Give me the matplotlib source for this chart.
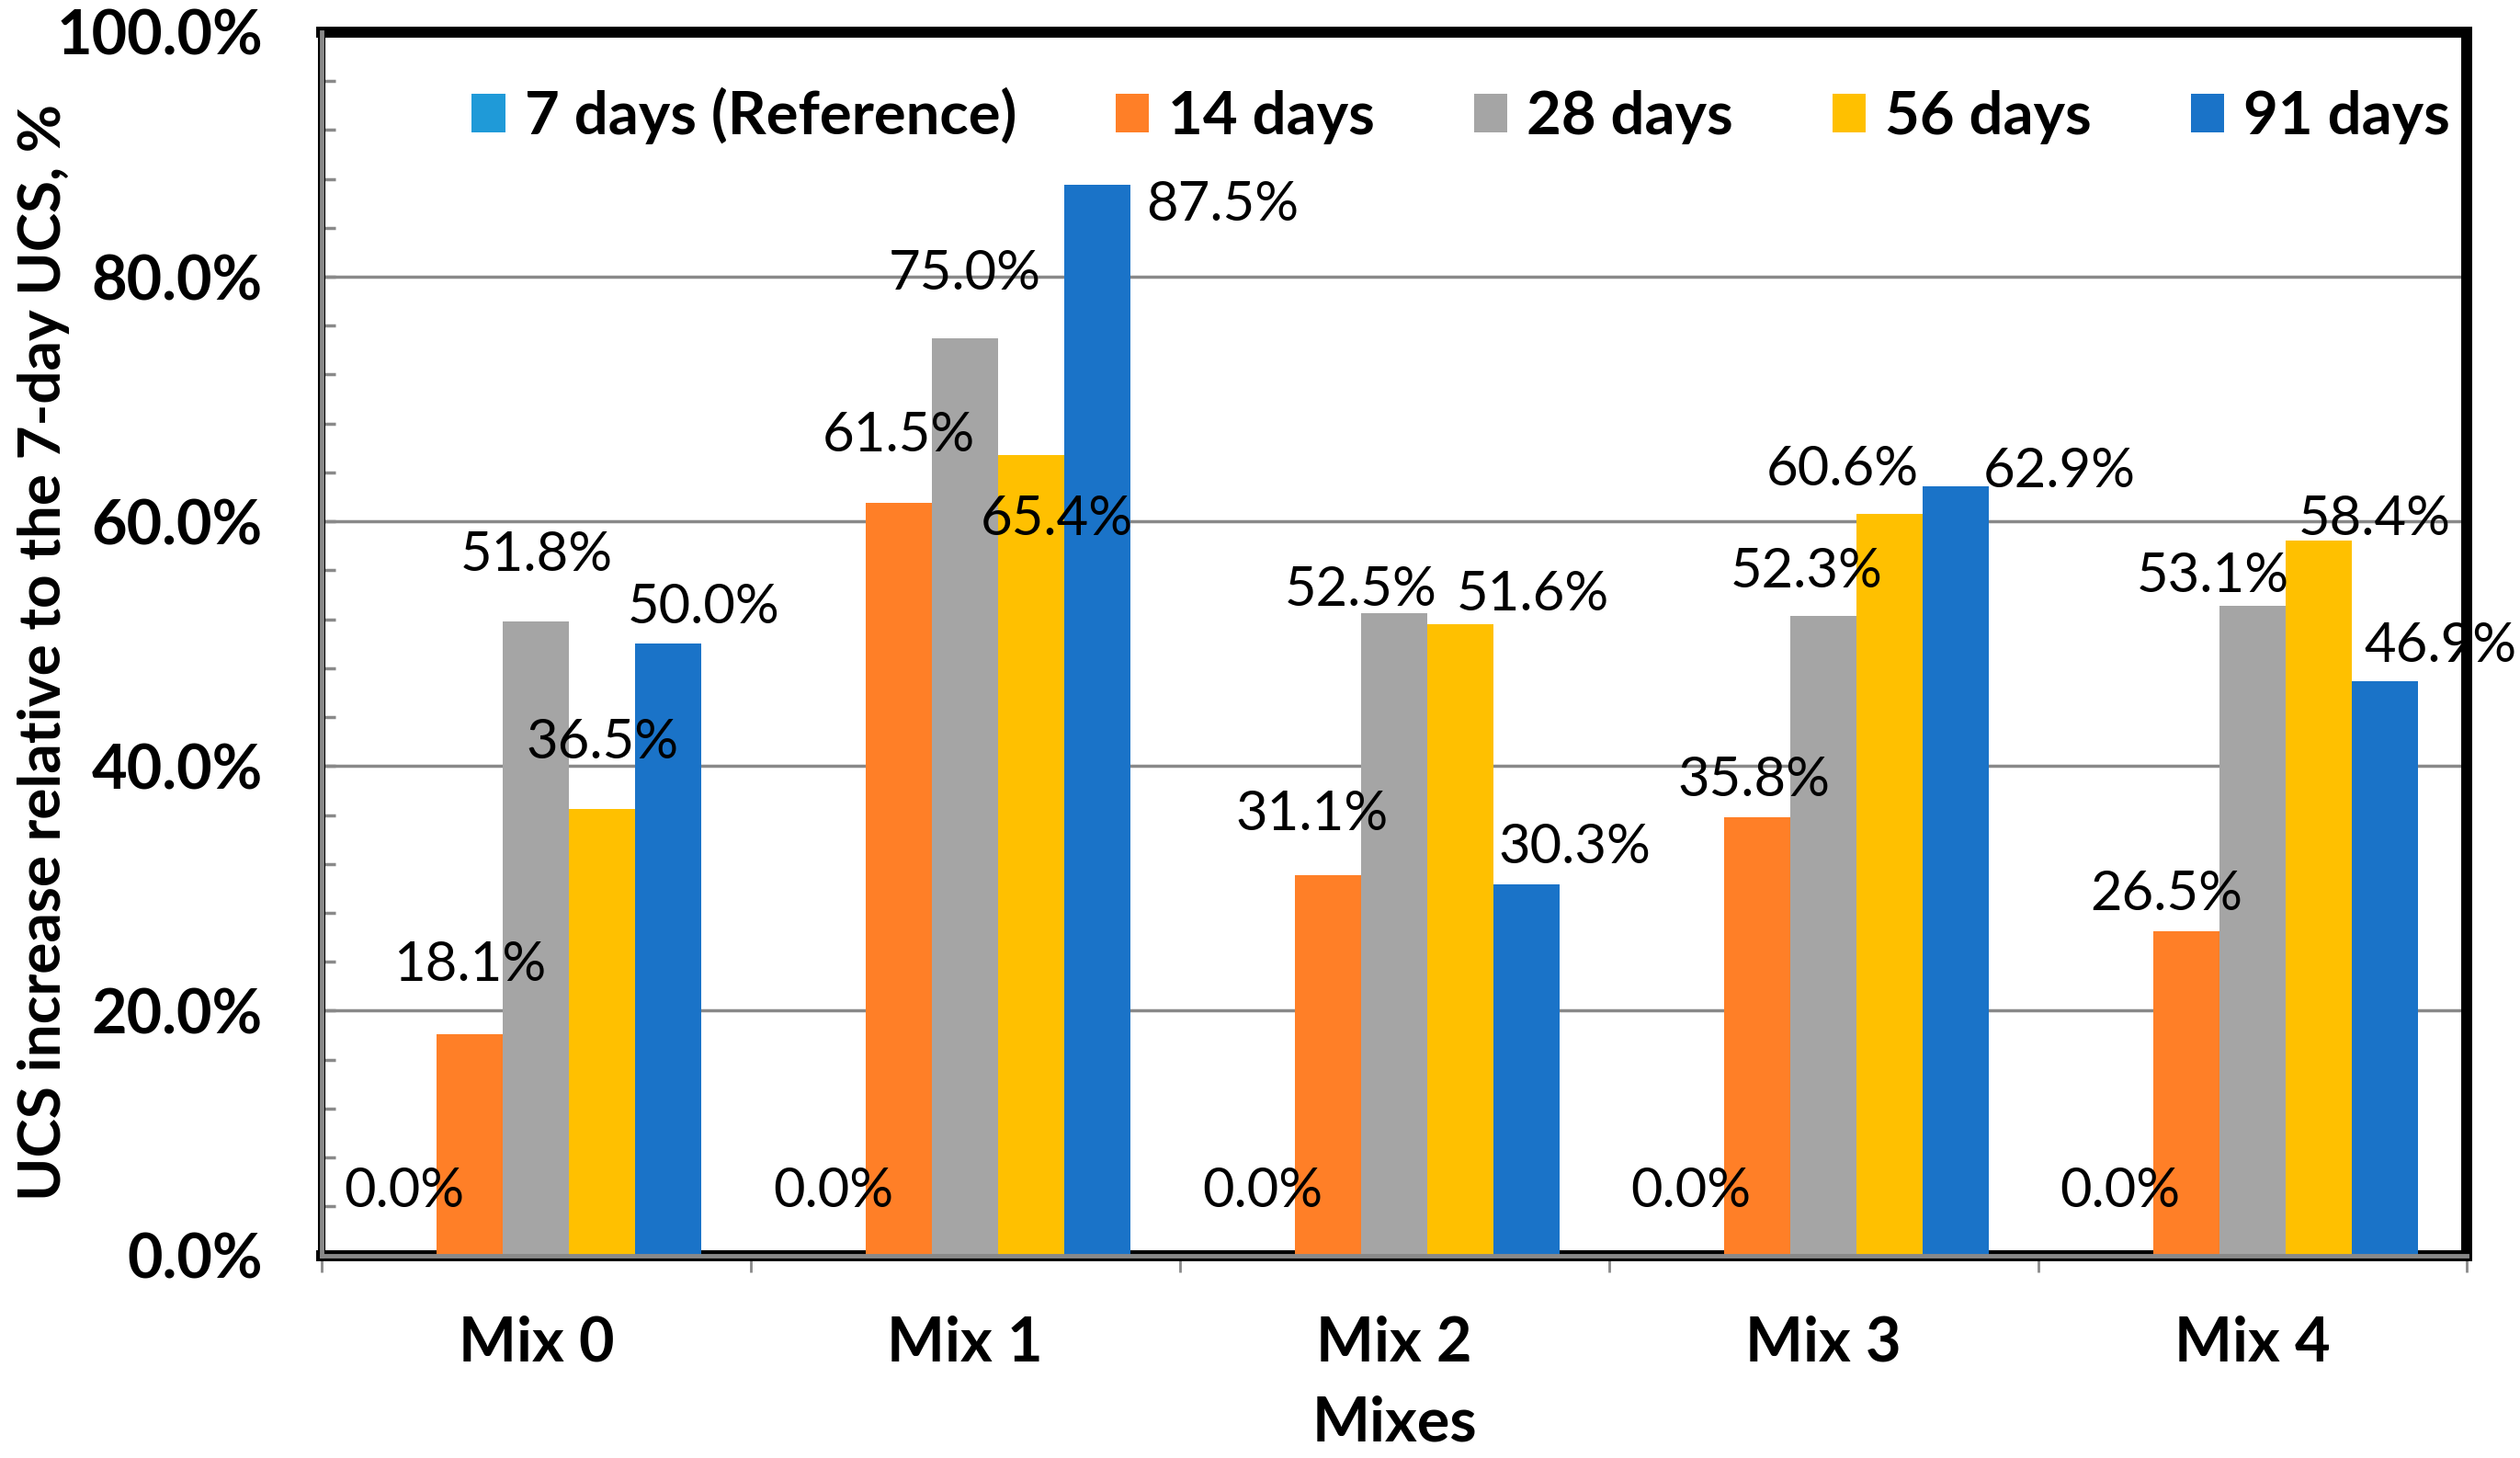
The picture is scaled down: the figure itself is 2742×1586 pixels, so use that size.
import numpy as np
import matplotlib
matplotlib.use("Agg")
import matplotlib.pyplot as plt
import matplotlib.ticker as ticker

# === Data (UCS increase relative to 7-day UCS, %) ===
mixes = ["Mix 0", "Mix 1", "Mix 2", "Mix 3", "Mix 4"]
series_names = ["7 days (Reference)", "14 days", "28 days", "56 days", "91 days"]
days_7 = [0.0, 0.0, 0.0, 0.0, 0.0]
days_14 = [18.1, 61.5, 31.1, 35.8, 26.5]
days_28 = [51.8, 75.0, 52.5, 52.3, 53.1]
days_56 = [36.5, 65.4, 51.6, 60.6, 58.4]
days_91 = [50.0, 87.5, 30.3, 62.9, 46.9]

colors = ["#1F9AD8", "#FF7F27", "#A5A5A5", "#FFC000", "#1A73C8"]

# label offsets (dx, dy) in points, label centre relative to bar top
label_offsets = [
    [(0, 50), (0, 50), (0, 50), (0, 50), (0, 50)],
    [(0, 54), (0, 53), (-13, 47), (-3, 29), (-16, 29)],
    [(0, 52), (0, 50), (-26, 18), (-13, 34), (-31, 23)],
    [(0, 52), (20, -50), (57, 23), (-37, 35), (44, 17)],
    [(28, 28), (98, -16), (38, 29), (81, 11), (44, 28)],
]

# === Fonts ===
FONT = ["Lato", "DejaVu Sans"]
GRAY = "#898989"

fig = plt.figure(figsize=(27.42, 15.86), dpi=100)
ax = fig.add_axes([0.1276, 0.139, 0.8514, 0.839])

x = np.arange(len(mixes))
width = 0.154
all_series = [days_7, days_14, days_28, days_56, days_91]

for i, (name, vals, col) in enumerate(zip(series_names, all_series, colors)):
    xs = x + (i - 2) * width
    ax.bar(xs, vals, width, color=col, label=name, zorder=3)
    for j, v in enumerate(vals):
        dx, dy = label_offsets[i][j]
        ax.annotate(f"{v:.1f}%", xy=(xs[j], v), xytext=(dx, dy),
                    textcoords="offset points", ha="center", va="center",
                    fontsize=43, family=FONT, zorder=5)

ax.set_xlim(-0.5, len(mixes) - 0.5)
ax.set_ylim(0, 100)

# === Ticks ===
ax.yaxis.set_major_locator(ticker.MultipleLocator(20))
ax.yaxis.set_minor_locator(ticker.MultipleLocator(4))
ax.yaxis.set_major_formatter(ticker.FuncFormatter(lambda v, p: f"{v:.1f}%"))
ax.tick_params(axis="y", which="both", direction="in", length=11, width=2.5,
               color=GRAY, pad=46)
ax.set_xticks(x)
ax.set_xticklabels(mixes)
ax.set_xticks(np.arange(-0.5, len(mixes)), minor=True)
ax.tick_params(axis="x", which="major", length=0, pad=47)
ax.tick_params(axis="x", which="minor", direction="out", length=13, width=2,
               color=GRAY)
for lab in ax.get_xticklabels() + ax.get_yticklabels():
    lab.set_family(FONT)
    lab.set_fontweight("bold")
    lab.set_fontsize(48)

# === Grid and frame ===
ax.grid(axis="y", which="major", color=GRAY, linewidth=2.5, zorder=1)
ax.set_axisbelow(True)
ax.spines["top"].set_visible(False)
ax.spines["right"].set_visible(False)
for s in ["left", "bottom"]:
    ax.spines[s].set_color(GRAY)
    ax.spines[s].set_linewidth(3.5)
    ax.spines[s].set_zorder(4)
# black plot-area border (thick on top / right / bottom)
ax.plot([0, 1, 1, 0], [1, 1, 0, 0], transform=ax.transAxes, color="black",
        linewidth=8.6, solid_joinstyle="miter", solid_capstyle="projecting",
        clip_on=False, zorder=2)
ax.plot([0, 0], [0, 1], transform=ax.transAxes, color="black",
        linewidth=5.8, clip_on=False, zorder=2)

ax.set_xlabel("Mixes", fontsize=48, fontweight="bold", family=FONT, labelpad=18)
fig.text(0.0172, 0.553, "UCS increase relative to the 7-day UCS, %",
         rotation=90, ha="center", va="center", fontsize=46,
         fontweight="bold", family=FONT)

leg = ax.legend(loc="center", bbox_to_anchor=(0.531, 0.9316), ncol=5,
                frameon=False, borderpad=0, handlelength=0.56, handleheight=0.62,
                handletextpad=0.32, columnspacing=1.65,
                prop={"family": FONT, "weight": "bold", "size": 47})

fig.savefig("out.png", dpi=100)
